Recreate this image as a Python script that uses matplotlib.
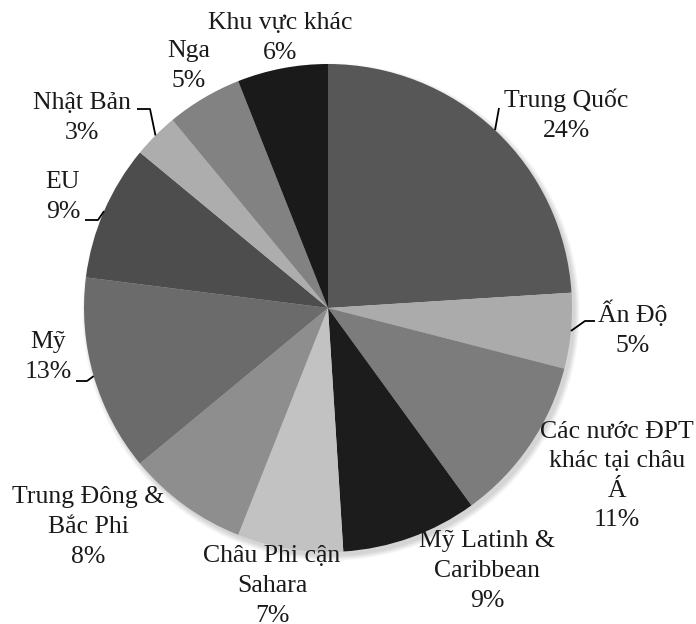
import matplotlib.pyplot as plt
from matplotlib.patches import Circle
import numpy as np

# data
regions = ["Trung Quốc", "Ấn Độ", "Các nước ĐPT\nkhác tại châu\nÁ",
           "Mỹ Latinh &\nCaribbean", "Châu Phi cận\nSahara",
           "Trung Đông &\nBắc Phi", "Mỹ", "EU", "Nhật Bản", "Nga",
           "Khu vực khác"]
shares = [24, 5, 11, 9, 7, 8, 13, 9, 3, 5, 6]
colors = ["#575757", "#ababab", "#7c7c7c", "#1c1c1c", "#c2c2c2",
          "#8e8e8e", "#6b6b6b", "#4d4d4d", "#adadad", "#828282", "#1a1a1a"]

# layout (pixel coords of the 696x624 picture, y from top)
W, H = 696, 624
cx, cy, R = 328, 308, 244
label_xy = [(566, 115), (633, 329), (617, 476), (487, 571), (272, 586),
            (88, 527), (48, 357), (63, 197), (82, 118), (189, 66), (280, 38)]
# leader elbows near the label
leaders = {0: [(499, 108)],
           1: [(595, 321), (585, 321)],
           6: [(76, 381), (87, 381)],
           7: [(85, 220), (98, 220)],
           8: [(137, 109), (150, 109)]}

plt.rcParams['font.family'] = ['Liberation Serif', 'DejaVu Serif']

fig = plt.figure(figsize=(W / 100, H / 100), dpi=100)
ax = fig.add_axes([0, 0, 1, 1])

# soft shadow
for k in range(7):
    ax.add_patch(Circle((cx + 3, H - cy - 4), R + k * 0.8, color="black",
                        alpha=0.025, lw=0, zorder=0))

wedges, _ = ax.pie(shares, colors=colors, startangle=90, counterclock=False,
                   center=(cx, H - cy), radius=R,
                   wedgeprops=dict(linewidth=0, zorder=1))

ax.set_xlim(0, W)
ax.set_ylim(0, H)
ax.set_aspect('equal')
ax.axis('off')

for i, (name, val) in enumerate(zip(regions, shares)):
    x, y = label_xy[i]
    ax.text(x, H - y, f"{name}\n{val}%", ha="center", va="center",
            multialignment="center", fontsize=18.5, color="#1a1a1a",
            linespacing=1.45, zorder=3)
    if i in leaders:
        w = wedges[i]
        mid = np.deg2rad((w.theta1 + w.theta2) / 2)
        ex, ey = cx + R * np.cos(mid), (H - cy) + R * np.sin(mid)
        pts = [(px, H - py) for px, py in leaders[i]] + [(ex, ey)]
        ax.plot([p[0] for p in pts], [p[1] for p in pts], color="black",
                lw=1.3, zorder=2, solid_capstyle="butt")

fig.savefig("out.png", dpi=100)
